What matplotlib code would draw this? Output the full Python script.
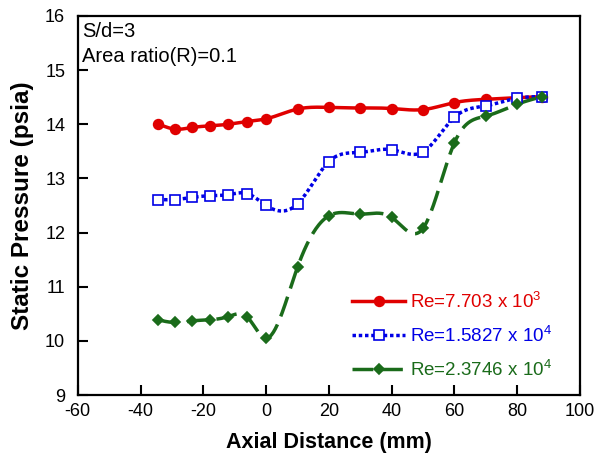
import numpy as np
import matplotlib
matplotlib.use('Agg')
import matplotlib.pyplot as plt
from matplotlib.lines import Line2D

plt.rcParams['font.family'] = ['Liberation Sans', 'DejaVu Sans']
plt.rcParams['mathtext.fontset'] = 'custom'
plt.rcParams['mathtext.rm'] = 'Liberation Sans'
plt.rcParams['mathtext.default'] = 'regular'
plt.rcParams['axes.unicode_minus'] = False

# data
x_red = [-34.5, -29, -23.5, -18, -12, -6, 0, 10, 20, 30, 40, 50, 60, 70, 80, 88]
p_red = [14.01, 13.91, 13.94, 13.97, 14.00, 14.05, 14.10, 14.28, 14.31, 14.30, 14.29, 14.27, 14.40, 14.46, 14.49, 14.51]

x_blue = [-34.5, -29, -23.5, -18, -12, -6, 0, 10, 20, 30, 40, 50, 60, 70, 80, 88]
p_blue = [12.61, 12.61, 12.65, 12.68, 12.70, 12.72, 12.50, 12.53, 13.31, 13.48, 13.53, 13.49, 14.13, 14.34, 14.48, 14.51]

x_green = [-34.5, -29, -23.5, -18, -12, -6, 0, 10, 20, 30, 40, 50, 60, 70, 80, 88]
p_green = [10.39, 10.34, 10.37, 10.39, 10.45, 10.44, 10.05, 11.36, 12.31, 12.34, 12.28, 12.08, 13.66, 14.15, 14.37, 14.51]

labels = ['Re=7.703 x 10$^{3}$', 'Re=1.5827 x 10$^{4}$', 'Re=2.3746 x 10$^{4}$']
colors = ['#e00000', '#0000e6', '#1a6b1a']


def smooth(x, y, n=400):
    # natural cubic spline through the points (for the drawn curve only)
    x = np.asarray(x, float)
    y = np.asarray(y, float)
    h = np.diff(x)
    m = len(x)
    A = np.zeros((m, m))
    b = np.zeros(m)
    A[0, 0] = A[-1, -1] = 1
    for i in range(1, m - 1):
        A[i, i - 1] = h[i - 1]
        A[i, i] = 2 * (h[i - 1] + h[i])
        A[i, i + 1] = h[i]
        b[i] = 6 * ((y[i + 1] - y[i]) / h[i] - (y[i] - y[i - 1]) / h[i - 1])
    M = np.linalg.solve(A, b)
    xs = np.linspace(x[0], x[-1], n)
    k = np.clip(np.searchsorted(x, xs) - 1, 0, m - 2)
    t1 = x[k + 1] - xs
    t0 = xs - x[k]
    ys = (M[k] * t1**3 + M[k + 1] * t0**3) / (6 * h[k]) \
        + (y[k] / h[k] - M[k] * h[k] / 6) * t1 \
        + (y[k + 1] / h[k] - M[k + 1] * h[k] / 6) * t0
    return xs, ys


fig = plt.figure(figsize=(5.98, 4.67), dpi=100)
ax = fig.add_axes([0.130, 0.154, 0.840, 0.812])

styles = [
    dict(ls='-', marker='o', ms=7, mfc=colors[0], lw=2.5),
    dict(ls=(0, (1, 0.8)), marker='s', ms=7.5, mfc='white', lw=2.5),
    dict(ls=(0, (6, 2.5)), marker='D', ms=5.5, mfc=colors[2], lw=2.5),
]
series = [(x_red, p_red), (x_blue, p_blue), (x_green, p_green)]

handles = []
for (xv, yv), c, st, lab in zip(series, colors, styles, labels):
    xs, ys = smooth(xv, yv)
    ax.plot(xs, ys, color=c, lw=st['lw'], ls=st['ls'], zorder=2)
    ax.plot(xv, yv, ls='none', marker=st['marker'], ms=st['ms'],
            mfc=st['mfc'], mec=c, mew=1.2, zorder=3)
    handles.append(Line2D([], [], color=c, lw=st['lw'], ls=st['ls'],
                          marker=st['marker'], ms=st['ms'], mfc=st['mfc'],
                          mec=c, mew=1.2))

leg = ax.legend(handles, labels, loc='lower right', frameon=False,
                fontsize=13.5, handlelength=2.8, handletextpad=0.3,
                labelspacing=0.75, borderaxespad=0,
                bbox_to_anchor=(0.96, 0.02))
for t, c in zip(leg.get_texts(), colors):
    t.set_color(c)

ax.set_xlim(-60, 100)
ax.set_ylim(9, 16)
ax.set_xticks(range(-60, 101, 20))
ax.set_yticks(range(9, 17))
ax.tick_params(direction='in', length=7, width=1.5, labelsize=13,
               top=False, right=False)
ax.tick_params(axis='x', pad=6)
ax.tick_params(axis='y', pad=9)
for s in ax.spines.values():
    s.set_linewidth(1.6)

ax.set_xlabel('Axial Distance (mm)', fontsize=15.5, fontweight='bold', labelpad=8)
ax.set_ylabel('Static Pressure (psia)', fontsize=17.5, fontweight='bold', labelpad=8)

ax.text(0.008, 0.958, 'S/d=3', transform=ax.transAxes,
        fontsize=14.5, va='center', ha='left')
ax.text(0.008, 0.892, 'Area ratio(R)=0.1', transform=ax.transAxes,
        fontsize=14.5, va='center', ha='left')

fig.savefig('out.png', dpi=100)
